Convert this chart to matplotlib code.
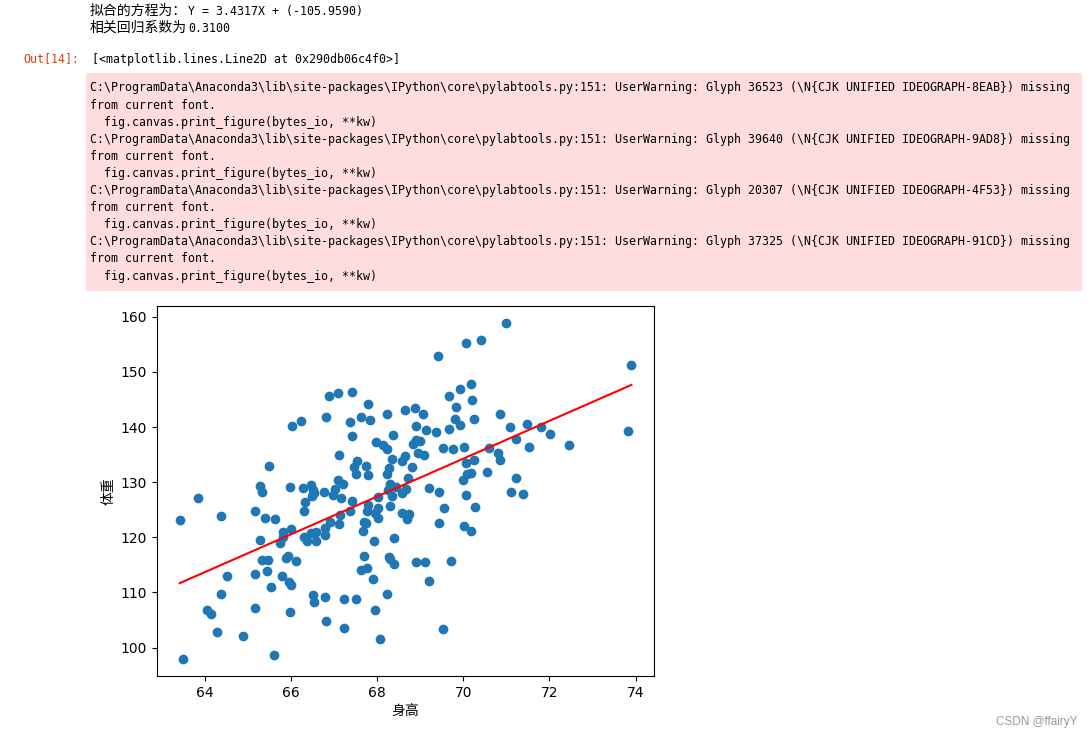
import matplotlib
matplotlib.use("Agg")
import matplotlib.pyplot as plt
from matplotlib.patches import Rectangle
import numpy as np

# ---------------- data ----------------
height = [
    63.42, 63.49, 63.84, 64.05, 64.14, 64.28, 64.39, 64.39, 64.51, 64.88,
    65.18, 65.18, 65.18, 65.28, 65.32, 65.28, 65.39, 65.32, 65.46, 65.44,
    65.49, 65.53, 65.60, 65.63, 65.74, 65.79, 65.81, 65.83, 65.88, 65.93,
    65.95, 66.00, 65.97, 66.00, 65.97, 66.02, 66.11, 66.23, 66.28, 66.32,
    66.30, 66.30, 66.37, 66.46, 66.51, 66.49, 66.53, 66.46, 66.58, 66.58,
    66.51, 66.53, 66.76, 66.79, 66.79, 66.81, 66.79, 66.81, 66.88, 66.90,
    66.97, 67.02, 67.09, 67.11, 67.09, 67.11, 67.13, 67.20, 67.16, 67.23,
    67.23, 67.37, 67.41, 67.41, 67.37, 67.41, 67.46, 67.51, 67.53, 67.51,
    67.62, 67.62, 67.67, 67.69, 67.69, 67.74, 67.76, 67.78, 67.80, 67.83,
    67.76, 67.80, 67.74, 67.90, 67.92, 67.95, 67.97, 68.02, 68.02, 68.02,
    67.95, 68.08, 68.13, 68.23, 68.23, 68.23, 68.27, 68.30, 68.30, 68.34,
    68.37, 68.34, 68.25, 68.43, 68.39, 68.23, 68.27, 68.30, 68.39, 68.57,
    68.64, 68.64, 68.71, 68.57, 68.67, 68.57, 68.74, 68.69, 68.80, 68.83,
    68.90, 68.88, 68.90, 68.95, 68.99, 68.90, 69.06, 69.08, 69.13, 69.11,
    69.20, 69.20, 69.36, 69.41, 69.43, 69.43, 69.52, 69.55, 69.52, 69.67,
    69.67, 69.71, 69.76, 69.81, 69.83, 69.92, 69.92, 69.99, 70.01, 70.01,
    70.06, 70.06, 70.06, 70.08, 70.18, 70.20, 70.25, 70.18, 70.25, 70.27,
    70.18, 70.41, 70.56, 70.60, 70.81, 70.86, 70.86, 71.00, 71.09, 71.11,
    71.23, 71.23, 71.39, 71.48, 71.53, 71.81, 72.02, 72.46, 73.83, 73.90,
]
weight = [
    123.1, 97.9, 127.1, 106.8, 106.1, 102.8, 123.8, 109.8, 113.0, 102.1,
    124.7, 113.3, 107.2, 129.3, 128.2, 119.5, 123.5, 115.9, 115.9, 113.9,
    133.0, 111.0, 98.6, 123.3, 118.9, 113.0, 120.9, 120.0, 116.2, 116.6,
    111.9, 111.3, 129.1, 121.5, 106.4, 140.2, 115.7, 141.1, 128.9, 126.4,
    124.8, 120.0, 119.3, 129.5, 128.6, 127.5, 128.0, 120.7, 120.9, 119.3,
    109.5, 108.2, 128.2, 121.6, 120.5, 141.8, 109.2, 104.8, 145.6, 122.8,
    127.7, 128.7, 146.2, 135.0, 130.4, 122.4, 124.1, 129.7, 127.1, 108.9,
    103.5, 140.9, 146.4, 138.4, 124.7, 126.5, 132.8, 131.5, 133.8, 108.8,
    141.8, 114.1, 121.2, 122.8, 116.7, 133.0, 114.5, 144.2, 131.3, 141.3,
    124.7, 125.9, 122.6, 112.4, 119.3, 106.8, 137.3, 127.4, 125.3, 123.5,
    124.4, 101.5, 136.7, 136.1, 142.4, 131.5, 132.5, 129.7, 125.7, 134.2,
    138.6, 127.5, 128.6, 129.2, 119.9, 109.7, 116.4, 116.0, 115.1, 133.8,
    134.7, 143.0, 130.7, 128.0, 128.7, 124.5, 124.2, 123.3, 132.7, 136.9,
    137.7, 143.5, 140.2, 135.3, 137.5, 115.5, 142.4, 134.9, 139.5, 115.5,
    128.9, 112.0, 139.1, 152.9, 128.3, 122.6, 136.2, 125.3, 103.3, 145.6,
    139.7, 115.7, 136.1, 141.5, 143.6, 146.9, 140.4, 130.4, 136.4, 122.0,
    155.3, 133.5, 127.7, 131.5, 147.8, 144.9, 141.5, 131.6, 134.0, 125.5,
    121.1, 155.8, 131.8, 136.2, 135.3, 142.4, 134.0, 158.9, 140.0, 128.2,
    137.8, 130.7, 127.8, 140.5, 136.4, 140.0, 138.7, 136.7, 139.3, 151.3,
]
slope = 3.4317
intercept = -105.9590
r_value = 0.3100

xlabel_text = "身高"
ylabel_text = "体重"
glyphs = [("36523", "8EAB"), ("39640", "9AD8"), ("20307", "4F53"), ("37325", "91CD")]

# ---------------- figure ----------------
W, H = 1092, 740
fig = plt.figure(figsize=(W / 100, H / 100), dpi=100)
fig.patch.set_facecolor("white")

def fx(px):
    return px / W

def fy(py):
    return 1 - py / H

CJK = "Noto Sans CJK SC"
MONO = "DejaVu Sans Mono"
mono_size = 8.4
cjk_size = 10

# printed lines
fig.text(fx(90), fy(11), "拟合的方程为：", family=CJK, fontsize=cjk_size, va="center", ha="left")
fig.text(fx(188), fy(11), "Y = %.4fX + (%.4f)" % (slope, intercept), family=MONO,
         fontsize=mono_size, va="center", ha="left")
fig.text(fx(90), fy(28), "相关回归系数为", family=CJK, fontsize=cjk_size, va="center", ha="left")
fig.text(fx(188), fy(28), "%.4f" % r_value, family=MONO, fontsize=mono_size, va="center", ha="left")

fig.text(fx(23), fy(59), "Out[14]:", family=MONO, fontsize=mono_size, color="#D84315",
         va="center", ha="left")
fig.text(fx(92), fy(59), "[<matplotlib.lines.Line2D at 0x290db06c4f0>]", family=MONO,
         fontsize=mono_size, va="center", ha="left")

# stderr box
fig.patches.append(Rectangle((fx(86), fy(291)), fx(1082) - fx(86), fy(73) - fy(291),
                             transform=fig.transFigure, facecolor="#FFDDDD",
                             edgecolor="none", zorder=0))
lines = []
for code, hexcode in glyphs:
    lines.append(r"C:\ProgramData\Anaconda3\lib\site-packages\IPython\core\pylabtools.py:151: "
                 r"UserWarning: Glyph " + code + r" (\N{CJK UNIFIED IDEOGRAPH-" + hexcode + r"}) missing")
    lines.append("from current font.")
    lines.append("  fig.canvas.print_figure(bytes_io, **kw)")
for i, ln in enumerate(lines):
    fig.text(fx(90), fy(88 + 17.1 * i), ln, family=MONO, fontsize=mono_size,
             va="center", ha="left", color="black")

# axes
ax = fig.add_axes([fx(157), fy(676), fx(654) - fx(157), fy(306) - fy(676)])
x = np.array(height)
y = np.array(weight)
ax.scatter(x, y, s=36, color="#1f77b4")
ax.plot(x, slope * x + intercept, color="red", linewidth=1.5)
ax.set_xlabel(xlabel_text, family=CJK, fontsize=10)
ax.set_ylabel(ylabel_text, family=CJK, fontsize=10)
ax.tick_params(labelsize=10)

# watermark
fig.text(fx(1077), fy(722), "CSDN @ffairyY", family="Liberation Sans", fontsize=8.5,
         color="#999999", ha="right", va="center")

fig.savefig("out.png", dpi=100)
